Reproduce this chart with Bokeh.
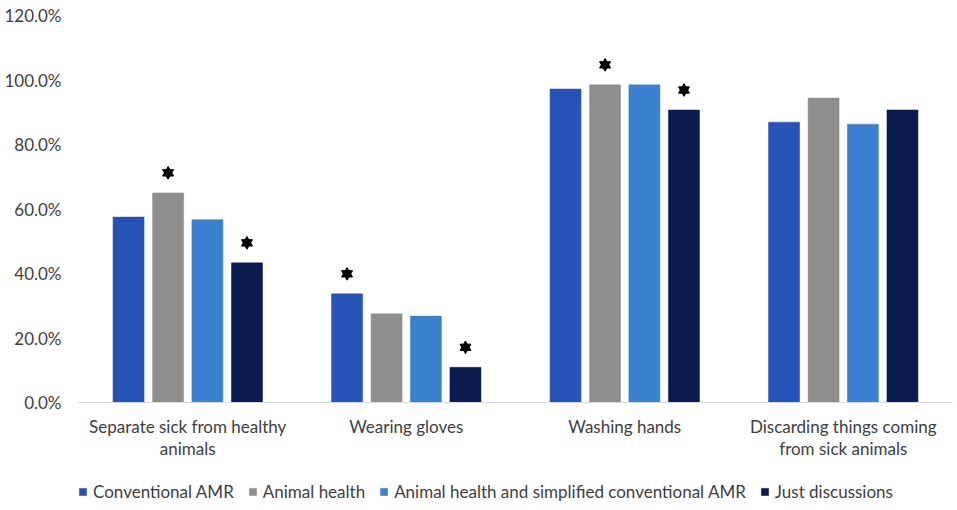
from bokeh.plotting import figure
from bokeh.layouts import column
from bokeh.models import (ColumnDataSource, FactorRange, Range1d, FixedTicker,
                          PrintfTickFormatter, Legend, LegendItem)
from bokeh.transform import dodge
from bokeh.embed import file_html
from bokeh.resources import INLINE

categories = ["Separate sick from healthy\nanimals", "Wearing gloves",
              "Washing hands", "Discarding things coming\nfrom sick animals"]
series = ["Conventional AMR", "Animal health",
          "Animal health and simplified conventional AMR", "Just discussions"]
conventional_amr = [57.5, 33.7, 97.2, 86.9]
animal_health = [65.0, 27.5, 98.5, 94.4]
animal_health_simplified = [56.7, 26.8, 98.5, 86.3]
just_discussions = [43.3, 10.9, 90.7, 90.7]
# significance marks (1 = star above the bar)
star_conventional = [0, 1, 0, 0]
star_animal_health = [1, 0, 1, 0]
star_simplified = [0, 0, 0, 0]
star_discussions = [1, 1, 1, 0]
y_ticks = [0, 20, 40, 60, 80, 100, 120]

colors = ["#2553B8", "#8E8E8E", "#3A82CF", "#0B1B4F"]
values = [conventional_amr, animal_health, animal_health_simplified, just_discussions]
stars = [star_conventional, star_animal_health, star_simplified, star_discussions]
offsets = [-0.271, -0.090, 0.090, 0.271]

FONT = "Lato"
TXT = "#404040"
FS = "17px"

p = figure(x_range=FactorRange(*categories, range_padding=0),
           y_range=Range1d(0, 120),
           frame_width=874, frame_height=387,
           output_backend="svg", toolbar_location=None,
           min_border_left=78, min_border_right=5, min_border_top=15,
           min_border_bottom=72)
p.outline_line_color = None
p.xgrid.grid_line_color = None
p.ygrid.grid_line_color = None

# legend strip under the chart (its bars lie outside its own y range)
lg = figure(width=957, height=36, x_range=p.x_range, y_range=Range1d(500, 501),
            output_backend="svg", toolbar_location=None,
            x_axis_location=None, y_axis_location=None, min_border=0)
lg.outline_line_color = None
lg.xgrid.grid_line_color = None
lg.ygrid.grid_line_color = None

items = []
for name, vals, st, col, off in zip(series, values, stars, colors, offsets):
    src = ColumnDataSource(dict(cat=categories, val=vals))
    p.vbar(x=dodge("cat", off, range=p.x_range), top="val", width=0.142,
           source=src, fill_color=col, line_color=col, line_width=0.5)
    lr = lg.vbar(x=dodge("cat", off, range=p.x_range), top="val", width=0.142,
                 source=src, fill_color=col, line_color=col, line_width=0.5)
    items.append(LegendItem(label=name, renderers=[lr]))
    sc = [c for c, s in zip(categories, st) if s]
    sv = [v + 6.2 for v, s in zip(vals, st) if s]
    if sc:
        ssrc = ColumnDataSource(dict(cat=sc, y=sv))
        for m in ("triangle", "inverted_triangle"):
            p.scatter(x=dodge("cat", off, range=p.x_range), y="y", source=ssrc,
                      marker=m, size=11, fill_color="black", line_color="black")

p.yaxis.ticker = FixedTicker(ticks=y_ticks)
p.yaxis.formatter = PrintfTickFormatter(format="%.1f%%")
p.yaxis.axis_line_color = None
p.yaxis.major_tick_line_color = None
p.yaxis.minor_tick_line_color = None
p.yaxis.major_tick_out = 0
p.yaxis.major_tick_in = 0
p.yaxis.major_label_standoff = 17
p.yaxis.major_label_text_font = FONT
p.yaxis.major_label_text_font_size = FS
p.yaxis.major_label_text_color = TXT

p.xaxis.axis_line_color = "#D9D9D9"
p.xaxis.major_tick_line_color = None
p.xaxis.minor_tick_line_color = None
p.xaxis.major_tick_out = 0
p.xaxis.major_tick_in = 0
p.xaxis.major_label_standoff = 13
p.xaxis.major_label_text_font = FONT
p.xaxis.major_label_text_font_size = FS
p.xaxis.major_label_text_color = TXT
p.xaxis.major_label_text_line_height = 1.06

legend = Legend(items=items, orientation="horizontal", location=(0, 8),
                glyph_width=9, glyph_height=9, label_standoff=6, spacing=14,
                label_text_font=FONT, label_text_font_size=FS,
                label_text_color=TXT, border_line_color=None,
                background_fill_alpha=0, padding=0, margin=0)
lg.add_layout(legend, "center")

layout = column(p, lg, spacing=0)
open("out.html", "w").write(file_html(layout, INLINE))
